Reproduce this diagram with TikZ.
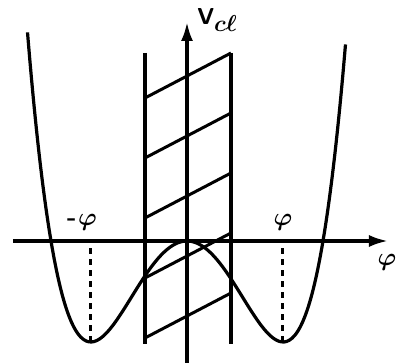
\documentclass[tikz,border=0pt]{standalone}
\usepackage{amsmath}
\usetikzlibrary{arrows.meta}

\begin{document}
\begin{tikzpicture}[x=1pt,y=1pt,
    axis/.style={line width=3.2pt,-{Latex[length=19pt,width=12pt]}},
    wall/.style={line width=3.4pt},
    hatch/.style={line width=3pt},
    pot/.style={line width=3.2pt},
    drop/.style={line width=3pt,dash pattern=on 6pt off 5pt},
    lbl/.style={inner sep=0pt,font=\LARGE\bfseries\boldmath,scale=1.45}]
\useasboundingbox (-187,-122) rectangle (210,241);

% axes
\coordinate (xs) at (-174,0);
\coordinate (xe) at (201,0);
\coordinate (ys) at (0,-122);
\coordinate (ye) at (0,219);
\draw[axis] (xs) -- (xe);
\draw[axis] (ys) -- (ye);

% the two walls and the hatching between them
\draw[wall] (-42,188) -- (-42,-103);
\draw[wall] (44,188) -- (44,-103);
\foreach \k in {0,...,4}
    \draw[hatch] (-42,{143-60*\k}) -- (44,{188-60*\k});

% double well: zeros at +-136, minima at +-96
\draw[pot] plot[domain=-159.5:158.5, samples=120, smooth]
    (\x,{404*(\x/136)^2*((\x/136)^2-1)});

% minima
\coordinate (ml) at (-96,-101);
\coordinate (mr) at (96,-101);
\draw[drop] (ml) -- (ml |- xs);
\draw[drop] (mr) -- (mr |- xs);

% labels
\node[lbl, anchor=west, scale=0.92] (vlabel)
    at (10,221) {$\mathsf{V}_{\textstyle c\ell}$};
\node[lbl] (mphi) at (-105,19) {-\kern1pt$\varphi$};
\node[lbl] (pphi) at (96,19) {$\varphi$};
\node[lbl] (phiaxis) at (200,-21) {$\varphi$};
\end{tikzpicture}
\end{document}
